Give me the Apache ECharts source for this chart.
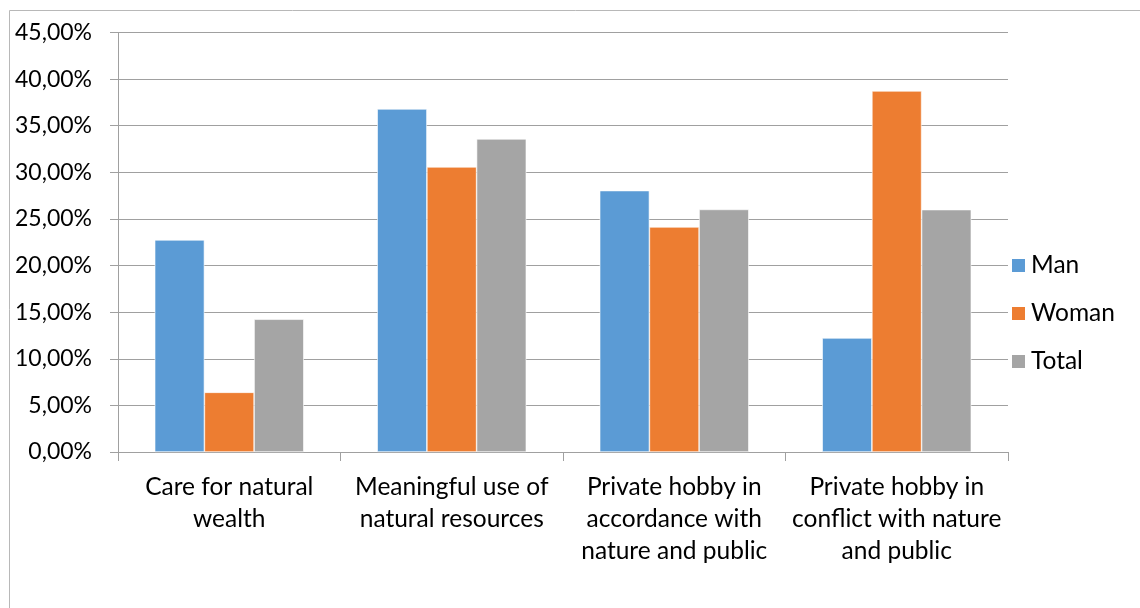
<!DOCTYPE html>
<html>
<head>
<meta charset="utf-8">
<script src="https://cdn.jsdelivr.net/npm/echarts@6/dist/echarts.min.js"></script>
<style>
  html, body { margin: 0; padding: 0; background: #fff; }
  #chart { width: 1140px; height: 608px; }
</style>
</head>
<body>
<div id="chart"></div>
<script>
// categories (manually wrapped like the original)
const categories = [
    'Care for natural\nwealth',
    'Meaningful use of\nnatural resources',
    'Private hobby in\naccordance with\nnature and public',
    'Private hobby in\nconflict with nature\nand public'
];
const seriesNames = ['Man', 'Woman', 'Total'];
const manValues = [22.75, 36.8, 28.04, 12.23];
const womanValues = [6.4, 30.58, 24.14, 38.73];
const totalValues = [14.24, 33.58, 26.02, 26.0];
const colors = ['#5B9BD5', '#ED7D31', '#A5A5A5'];

const fontFamily = 'Lato, "Open Sans", sans-serif';

const chart = echarts.init(document.getElementById('chart'));

function makeSeries(name, data, color) {
    return {
        name: name,
        type: 'bar',
        data: data,
        barGap: '0%',
        barCategoryGap: '33%',
        itemStyle: { color: color, borderColor: '#ffffff', borderWidth: 0.6 },
        emphasis: { disabled: true }
    };
}

const option = {
    animation: false,
    backgroundColor: '#ffffff',
    textStyle: { fontFamily: fontFamily },
    graphic: [{
        type: 'rect',
        shape: { x: 9.5, y: 10.5, width: 1300, height: 800 },
        style: { fill: 'none', stroke: '#b8b8b8', lineWidth: 1 },
        silent: true
    }],
    grid: { left: 118, right: 132, top: 32.5, bottom: 156, containLabel: false },
    legend: {
        orient: 'vertical',
        left: 1010,
        top: 253,
        padding: 0,
        itemWidth: 15,
        itemHeight: 15,
        itemGap: 23,
        icon: 'rect',
        data: seriesNames,
        textStyle: { fontSize: 24.5, color: '#000', fontFamily: fontFamily }
    },
    xAxis: {
        type: 'category',
        data: categories,
        axisLine: { lineStyle: { color: '#a0a0a0', width: 1 } },
        axisTick: { show: true, length: 9, lineStyle: { color: '#a0a0a0' } },
        axisLabel: {
            interval: 0,
            margin: 19,
            fontSize: 24.5,
            lineHeight: 32,
            color: '#000',
            fontFamily: fontFamily
        }
    },
    yAxis: {
        type: 'value',
        min: 0,
        max: 45,
        interval: 5,
        axisLine: { show: true, lineStyle: { color: '#a0a0a0', width: 1 } },
        axisTick: { show: true, length: 8, lineStyle: { color: '#a0a0a0' } },
        splitLine: { lineStyle: { color: '#a0a0a0', width: 1.2 } },
        axisLabel: {
            margin: 26,
            fontSize: 23,
            color: '#000',
            fontFamily: fontFamily,
            formatter: v => v.toFixed(2).replace('.', ',') + '%'
        }
    },
    series: [
        makeSeries(seriesNames[0], manValues, colors[0]),
        makeSeries(seriesNames[1], womanValues, colors[1]),
        makeSeries(seriesNames[2], totalValues, colors[2])
    ]
};
chart.setOption(option);
</script>
</body>
</html>
